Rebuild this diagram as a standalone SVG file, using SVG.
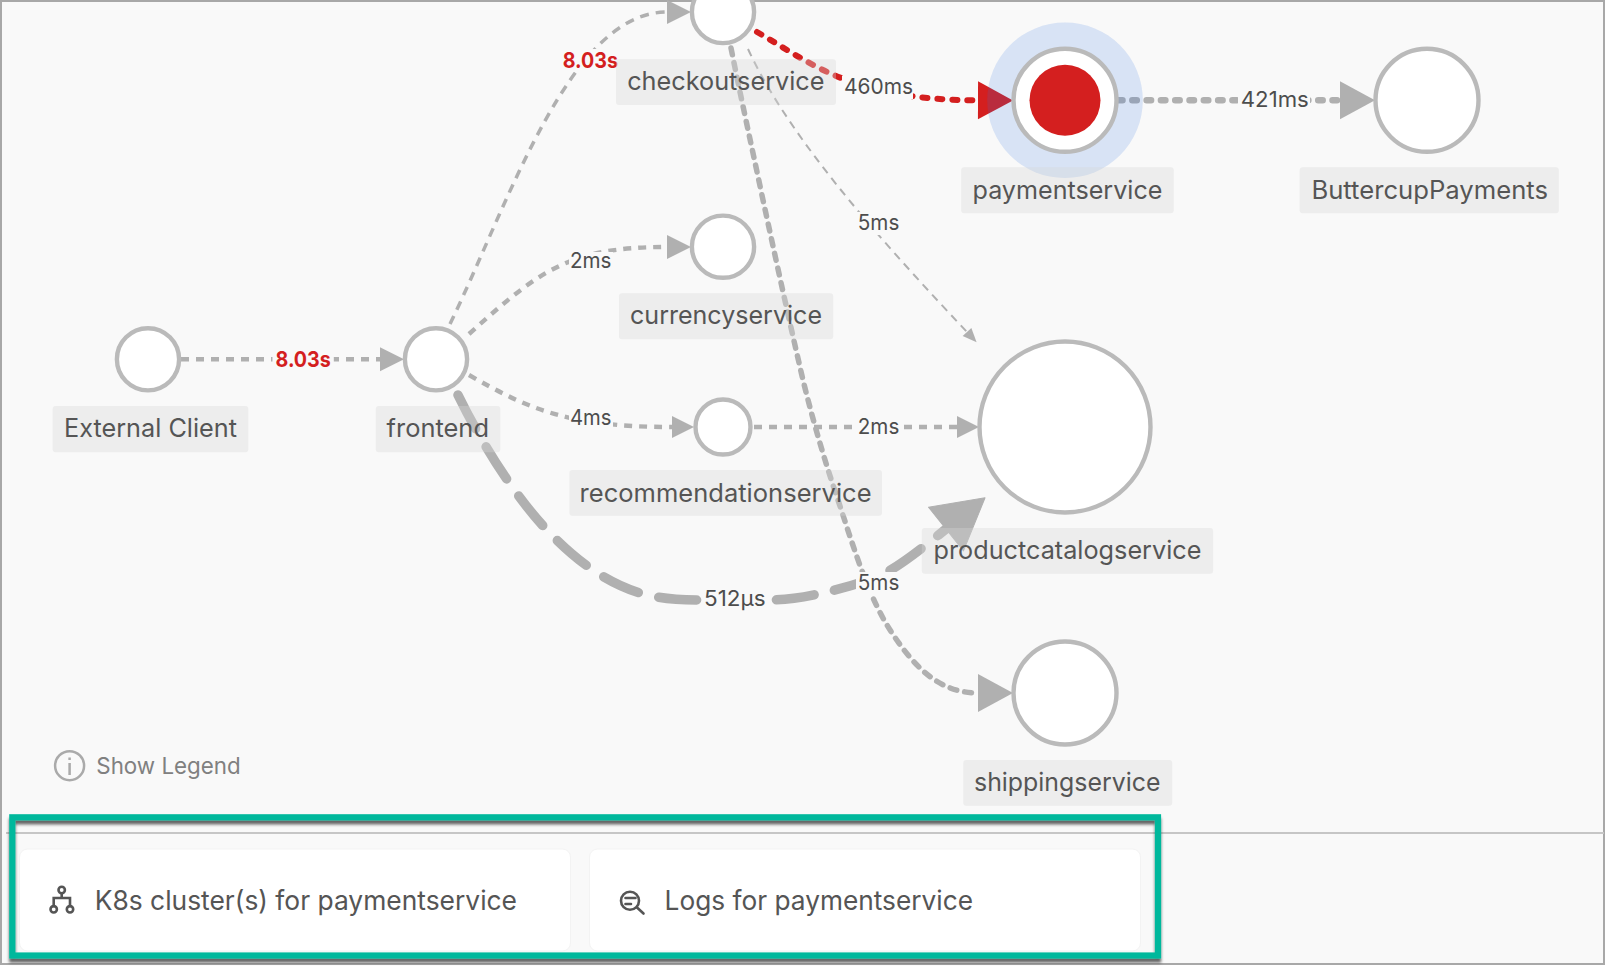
<svg xmlns="http://www.w3.org/2000/svg" width="1606" height="966" viewBox="0 0 1606 966">
<style>
text{font-family:Inter,"Liberation Sans",sans-serif;fill:#555}
.lbl{font-size:25.5px}
.box{fill:#d8d8d8;fill-opacity:.35}
.node{fill:#fff;stroke:#bababa;stroke-width:4.4}
.e{fill:none;stroke:#b0b0b0}
.w3{stroke-width:3.5;stroke-dasharray:9 7}
.w4{stroke-width:4.4;stroke-dasharray:8 7}
.w5{stroke-width:5.5;stroke-linecap:round;stroke-dasharray:7 8}
.w6{stroke-width:6.5;stroke-linecap:round;stroke-dasharray:4.5 9.8}
.red{stroke:#d41f1f;stroke-width:6;stroke-linecap:round;stroke-dasharray:5 10}
.thick{stroke-width:9.5;stroke-linecap:round;stroke-dasharray:38 21}
.thin{stroke-width:2;stroke-dasharray:8 6}
.elb{fill:#f9f9f9}
.el{font-size:22px;fill:#4d4d4d}
.hot{font-weight:700;fill:#d41f1f}
.ico{fill:none;stroke:#555;stroke-width:2.6;stroke-linecap:round}
.card{fill:#fff;stroke:#f3f3f3;stroke-width:1}
</style>
<defs>
<marker id="as" markerUnits="userSpaceOnUse" orient="auto" refX="0" refY="12" markerWidth="26" markerHeight="24" overflow="visible"><path d="M0,0 24,12 0,24Z" fill="#b0b0b0"/></marker>
<marker id="ar" markerUnits="userSpaceOnUse" orient="auto" refX="0" refY="11" markerWidth="24" markerHeight="22" overflow="visible"><path d="M0,0 22,11 0,22Z" fill="#b0b0b0"/></marker>
<marker id="am" markerUnits="userSpaceOnUse" orient="auto" refX="0" refY="19" markerWidth="36" markerHeight="38" overflow="visible"><path d="M0,0 35,19 0,38Z" fill="#b0b0b0"/></marker>
<marker id="ah" markerUnits="userSpaceOnUse" orient="auto" refX="0" refY="19" markerWidth="36" markerHeight="38" overflow="visible"><path d="M0,0 35,19 0,38Z" fill="#d41f1f"/></marker>
<marker id="at" markerUnits="userSpaceOnUse" orient="auto" refX="0" refY="6" markerWidth="15" markerHeight="12" overflow="visible"><path d="M0,0 14,6 0,12Z" fill="#b0b0b0"/></marker>
<marker id="ab" markerUnits="userSpaceOnUse" orient="auto" refX="0" refY="28" markerWidth="52" markerHeight="56" overflow="visible"><path d="M0,0 50,28 0,56Z" fill="#b0b0b0" stroke="#b0b0b0" stroke-width="1" stroke-linejoin="round"/></marker>
<filter id="sh" x="-5%" y="-10%" width="110%" height="120%"><feDropShadow dx="0" dy="4" stdDeviation="1.5" flood-color="#000" flood-opacity=".6"/></filter>
</defs>
<rect x="1" y="1" width="1603" height="963" fill="#f9f9f9" stroke="#a8a8a8" stroke-width="2"/>
<path d="M6,833H1604" stroke="#c6c6c6" stroke-width="2"/>

<g id="connectors">
<path class="e w4" marker-end="url(#as)" d="M181,359.3H380"/>
<path class="e w3" marker-end="url(#as)" d="M450,324C510,200 570,12 667,12"/>
<path class="e w4" marker-end="url(#as)" d="M469,334C540,270 570,247 667,247"/>
<path class="e w4" marker-end="url(#ar)" d="M469,375C530,410 570,427 672,427"/>
<path class="e w4" marker-end="url(#ar)" d="M754,427H957"/>
<path class="e thick" marker-end="url(#ab)" d="M458,395C478,436 510,490 545,528C575,560 605,582 640,593C660,599 680,600 699,600L770,600C795,600 835,592 875,578C895,570 921,549 946,529"/>
<path class="e w5" marker-end="url(#am)" d="M731,48C741,98 752,148 763,200C776,260 789,320 803,380C814,425 826,465 839,503C856,555 870,600 892,633C915,668 940,693 978,693"/>
<path class="e thin" marker-end="url(#at)" d="M748,49C790,140 885,245 967,332"/>
<path class="e red" marker-end="url(#ah)" d="M757,32C810,62 850,100 978,100.3"/>
<path class="e w6" marker-end="url(#am)" d="M1118,100.3H1340"/>
<rect class="elb" x="272.5" y="349" width="61.3" height="23"/><text class="el hot" x="275.5" y="366.5" textLength="55.3" lengthAdjust="spacingAndGlyphs">8.03s</text>
<rect class="elb" x="559.7" y="49" width="61.3" height="23"/><text class="el hot" x="562.7" y="67.5" textLength="55.3" lengthAdjust="spacingAndGlyphs">8.03s</text>
<rect class="elb" x="569" y="252" width="44" height="21"/><text class="el" x="570" y="267.7" textLength="41.5" lengthAdjust="spacingAndGlyphs">2ms</text>
<rect class="elb" x="569" y="409" width="44" height="21"/><text class="el" x="570" y="424.7" textLength="41.5" lengthAdjust="spacingAndGlyphs">4ms</text>
<rect class="elb" x="842" y="76" width="71" height="23"/><text class="el" x="844" y="93.7" textLength="69" lengthAdjust="spacingAndGlyphs">460ms</text>
<rect class="elb" x="1238" y="89" width="72" height="23"/><text class="el" x="1240.8" y="106.7" textLength="68" lengthAdjust="spacingAndGlyphs">421ms</text>
<rect class="elb" x="856" y="212" width="45" height="23"/><text class="el" x="857.8" y="229.7" textLength="41.5" lengthAdjust="spacingAndGlyphs">5ms</text>
<rect class="elb" x="856" y="416" width="45" height="23"/><text class="el" x="857.8" y="433.7" textLength="41.5" lengthAdjust="spacingAndGlyphs">2ms</text>
<rect class="elb" x="856" y="572" width="45" height="23"/><text class="el" x="857.8" y="589.7" textLength="41.5" lengthAdjust="spacingAndGlyphs">5ms</text>
<rect class="elb" x="702" y="588" width="66" height="24"/><text class="el" x="704" y="605.7" textLength="61.5" lengthAdjust="spacingAndGlyphs">512µs</text>
</g>

<g id="external-client"><circle class="node" cx="148" cy="359.3" r="31.1"/><rect class="box" x="52.7" y="406" width="195.6" height="46.3" rx="3"/><text class="lbl" x="64" y="436.7" textLength="173" lengthAdjust="spacingAndGlyphs">External Client</text></g>
<g id="frontend"><circle class="node" cx="436" cy="359.3" r="31.1"/><rect class="box" x="375.8" y="406" width="124.5" height="46.3" rx="3"/><text class="lbl" x="386.6" y="436.7" textLength="102.4" lengthAdjust="spacingAndGlyphs">frontend</text></g>
<g id="checkoutservice"><circle class="node" cx="723" cy="12" r="31.1"/><rect class="box" x="616" y="59.3" width="220" height="45.7" rx="3"/><text class="lbl" x="627.2" y="90" textLength="197.3" lengthAdjust="spacingAndGlyphs">checkoutservice</text></g>
<g id="currencyservice"><circle class="node" cx="723" cy="246.7" r="31.1"/><rect class="box" x="619" y="293.3" width="214.2" height="46" rx="3"/><text class="lbl" x="630" y="324" textLength="192" lengthAdjust="spacingAndGlyphs">currencyservice</text></g>
<g id="recommendationservice"><circle class="node" cx="723" cy="427" r="27.5"/><rect class="box" x="569.4" y="470" width="312.6" height="45.7" rx="3"/><text class="lbl" x="579.6" y="501.5" textLength="292" lengthAdjust="spacingAndGlyphs">recommendationservice</text></g>
<g id="paymentservice"><circle cx="1065" cy="100.3" r="77.8" fill="#2c70e1" fill-opacity=".16"/><circle class="node" cx="1065" cy="100.3" r="51.5"/><circle cx="1065" cy="100.3" r="35.5" fill="#d41f1f"/><rect class="box" x="961.2" y="167.3" width="212.5" height="46" rx="3"/><text class="lbl" x="972.5" y="199" textLength="189.9" lengthAdjust="spacingAndGlyphs">paymentservice</text></g>
<g id="buttercuppayments"><circle class="node" cx="1427" cy="100.3" r="51.5"/><rect class="box" x="1299.7" y="167.3" width="259.1" height="46" rx="3"/><text class="lbl" x="1311.4" y="199" textLength="236.6" lengthAdjust="spacingAndGlyphs">ButtercupPayments</text></g>
<g id="productcatalogservice"><circle class="node" cx="1065" cy="427" r="85.5"/><rect class="box" x="921.8" y="528" width="291.3" height="45.7" rx="3"/><text class="lbl" x="933.6" y="558.7" textLength="267.8" lengthAdjust="spacingAndGlyphs">productcatalogservice</text></g>
<g id="shippingservice"><circle class="node" cx="1065" cy="693" r="51.5"/><rect class="box" x="963.3" y="760" width="208.9" height="45.7" rx="3"/><text class="lbl" x="974" y="790.7" textLength="186.4" lengthAdjust="spacingAndGlyphs">shippingservice</text></g>

<g id="legend"><circle cx="69.6" cy="765.7" r="14.5" fill="none" stroke="#aaa" stroke-width="2.5"/><path d="M69.6,763V775M69.6,757.5v2.5" stroke="#aaa" stroke-width="2.5" fill="none"/><text x="96.3" y="774" font-size="23" style="fill:#808080" textLength="144.4" lengthAdjust="spacingAndGlyphs">Show Legend</text></g>

<g id="k8s-card"><rect class="card" x="19.5" y="849" width="551" height="102" rx="8"/>
<g class="ico"><circle cx="61.7" cy="890" r="3.2"/><circle cx="53.7" cy="909.3" r="3.2"/><circle cx="70" cy="909.3" r="3.2"/><path d="M61.7,893.2V898M53.7,906V898H70V906"/></g>
<text x="94.7" y="909.7" font-size="27" textLength="422.3" lengthAdjust="spacingAndGlyphs">K8s cluster(s) for paymentservice</text></g>
<g id="logs-card"><rect class="card" x="589.5" y="849" width="551" height="102" rx="8"/>
<g class="ico"><circle cx="630" cy="900.7" r="9"/><path d="M637,907.5L643.5,913.5M625.5,898H635.5M625.5,904H631"/></g>
<text x="664.6" y="909.7" font-size="27" textLength="308.4" lengthAdjust="spacingAndGlyphs">Logs for paymentservice</text></g>

<rect id="highlight" x="12.3" y="817.3" width="1145.7" height="138.2" fill="none" stroke="#00b89c" stroke-width="6.2" filter="url(#sh)"/>
</svg>
